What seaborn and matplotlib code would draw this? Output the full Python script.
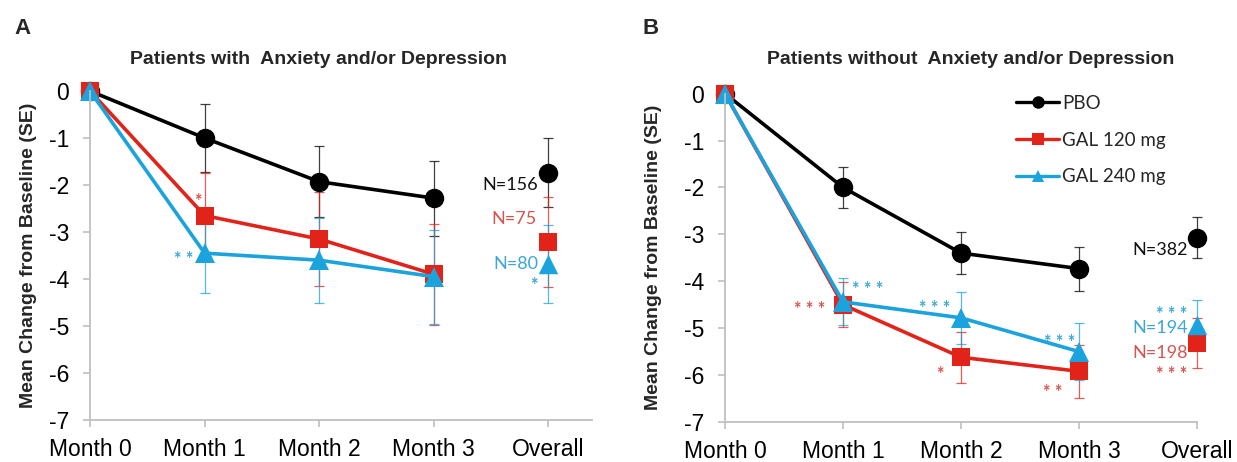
import matplotlib
matplotlib.use("Agg")
import matplotlib.pyplot as plt
import seaborn as sns
import pandas as pd
from matplotlib.lines import Line2D

sns.set_theme(style="white")
plt.rcParams['font.family'] = ['Liberation Sans', 'DejaVu Sans']

# ---------------- data ----------------
categories = ["Month 0", "Month 1", "Month 2", "Month 3", "Overall"]
groups = ["PBO", "GAL 120 mg", "GAL 240 mg"]

# Panel A: patients with anxiety and/or depression (Month 0..3, Overall)
a_pbo = [0.0, -1.00, -1.93, -2.28, -1.74]
a_g120 = [0.0, -2.65, -3.15, -3.90, -3.21]
a_g240 = [0.0, -3.45, -3.60, -3.95, -3.68]
a_pbo_se = [0.0, 0.72, 0.75, 0.80, 0.73]
a_g120_se = [0.0, 0.90, 1.00, 1.08, 0.96]
a_g240_se = [0.0, 0.85, 0.90, 1.00, 0.82]

# Panel B: patients without anxiety and/or depression
b_pbo = [0.0, -2.00, -3.40, -3.73, -3.07]
b_g120 = [0.0, -4.50, -5.62, -5.92, -5.32]
b_g240 = [0.0, -4.44, -4.78, -5.50, -4.93]
b_pbo_se = [0.0, 0.43, 0.45, 0.47, 0.44]
b_g120_se = [0.0, 0.48, 0.54, 0.56, 0.53]
b_g240_se = [0.0, 0.50, 0.56, 0.60, 0.53]

a_n = ["N=156", "N=75", "N=80"]
b_n = ["N=382", "N=198", "N=194"]

yticks = [0, -1, -2, -3, -4, -5, -6, -7]

colors = {"PBO": "#000000", "GAL 120 mg": "#E2231A", "GAL 240 mg": "#1AA3DC"}
text_colors = {"PBO": "#111111", "GAL 120 mg": "#D9544E", "GAL 240 mg": "#3BA7D6"}
markers = {"PBO": "o", "GAL 120 mg": "s", "GAL 240 mg": "^"}
msize = {"PBO": 14, "GAL 120 mg": 13, "GAL 240 mg": 14}

W, H = 1237, 462
fig = plt.figure(figsize=(W / 100, H / 100), dpi=100)
axA = fig.add_axes([90 / W, 1 - 420 / H, 502 / W, 329 / H])
axB = fig.add_axes([725 / W, 1 - 422 / H, 472 / W, 328.4 / H])

NFONT = ['Lato', 'DejaVu Sans']
SPINE = "#BFBFBF"


def draw_panel(ax, vals, ses, xmax):
    rows = []
    for g in groups:
        for i in range(4):
            rows.append({"pos": i, "val": vals[g][i], "group": g})
    df = pd.DataFrame(rows)
    for g in groups:
        sub = df[df.group == g]
        # error bars
        ax.errorbar(range(1, 5), vals[g][1:], yerr=ses[g][1:], fmt="none",
                    ecolor=colors[g], elinewidth=0.9, capsize=3.5, capthick=0.9,
                    alpha=0.75, zorder=1.5, clip_on=False)
        sns.lineplot(data=sub, x="pos", y="val", color=colors[g],
                     marker=markers[g], markersize=msize[g], markeredgewidth=0,
                     linewidth=2.6, ax=ax, legend=False, sort=False,
                     errorbar=None, clip_on=False, zorder=2)
        odf = pd.DataFrame({"pos": [4], "val": [vals[g][4]]})
        sns.scatterplot(data=odf, x="pos", y="val", color=colors[g],
                        marker=markers[g], s=msize[g] ** 2, linewidth=0,
                        ax=ax, legend=False, clip_on=False, zorder=3)
    ax.set_xlim(0, xmax)
    ax.set_ylim(-7, 0)
    ax.set_xticks(range(5))
    ax.set_xticklabels(categories)
    ax.set_yticks(yticks)
    ax.set_yticklabels([str(t) if t == 0 else "-" + str(abs(t)) for t in yticks])
    ax.set_xlabel("")
    ax.set_ylabel("")
    for s in ["top", "right"]:
        ax.spines[s].set_visible(False)
    for s in ["left", "bottom"]:
        ax.spines[s].set_color(SPINE)
        ax.spines[s].set_linewidth(1.3)
    ax.tick_params(axis="both", which="major", direction="out", length=5,
                   width=1.2, color=SPINE, labelsize=16.5, labelcolor="black")
    ax.tick_params(axis="x", pad=8)
    ax.tick_params(axis="y", pad=10)
    ax.tick_params(left=True, bottom=True)
    ax.patch.set_alpha(0)


draw_panel(axA, {"PBO": a_pbo, "GAL 120 mg": a_g120, "GAL 240 mg": a_g240},
           {"PBO": a_pbo_se, "GAL 120 mg": a_g120_se, "GAL 240 mg": a_g240_se}, 4.38)
draw_panel(axB, {"PBO": b_pbo, "GAL 120 mg": b_g120, "GAL 240 mg": b_g240},
           {"PBO": b_pbo_se, "GAL 120 mg": b_g120_se, "GAL 240 mg": b_g240_se}, 4.0)


def star(ax, x, y, s, g, ha="center"):
    ax.text(x, y, s, color=text_colors[g], fontsize=13, family=NFONT,
            fontweight="bold", ha=ha, va="center", zorder=4)


def ntext(ax, x, y, s, g):
    ax.text(x, y, s, color=text_colors[g], fontsize=13, family=NFONT,
            ha="right", va="center", zorder=4)


# Panel A annotations
star(axA, 0.94, -2.35, "*", "GAL 120 mg")
star(axA, 0.90, -3.59, "* *", "GAL 240 mg", ha="right")
ntext(axA, 3.91, -2.0, a_n[0], "PBO")
ntext(axA, 3.90, -2.72, a_n[1], "GAL 120 mg")
ntext(axA, 3.91, -3.68, a_n[2], "GAL 240 mg")
star(axA, 3.87, -4.14, "*", "GAL 240 mg")

# Panel B annotations
ntext(axB, 3.92, -3.33, b_n[0], "PBO")
star(axB, 3.92, -4.70, "* * *", "GAL 240 mg", ha="right")
ntext(axB, 3.92, -5.00, b_n[2], "GAL 240 mg")
ntext(axB, 3.92, -5.53, b_n[1], "GAL 120 mg")
star(axB, 3.92, -5.99, "* * *", "GAL 120 mg", ha="right")
star(axB, 2.86, -6.38, "* *", "GAL 120 mg", ha="right")
star(axB, 2.97, -5.31, "* * *", "GAL 240 mg", ha="right")
star(axB, 1.91, -4.58, "* * *", "GAL 240 mg", ha="right")
star(axB, 1.82, -5.99, "*", "GAL 120 mg")
star(axB, 1.08, -4.18, "* * *", "GAL 240 mg", ha="left")
star(axB, 0.85, -4.61, "* * *", "GAL 120 mg", ha="right")

# Legend (panel B)
handles = [Line2D([0], [0], color=colors[g], marker=markers[g], markersize=9,
                  markeredgewidth=0, linewidth=2.4) for g in groups]
leg = fig.legend(handles, groups, loc="upper left",
                 bbox_to_anchor=(1016 / W, 1 - 95 / H), frameon=False,
                 prop={"family": NFONT, "size": 13.5}, handlelength=2.3,
                 handletextpad=0.15, labelspacing=1.05, borderpad=0,
                 borderaxespad=0)

# Titles, labels, panel letters
fig.text(319 / W, 1 - 60 / H, "Patients with  Anxiety and/or Depression",
         ha="center", va="center", fontsize=14, fontweight="bold")
fig.text(971 / W, 1 - 60 / H, "Patients without  Anxiety and/or Depression",
         ha="center", va="center", fontsize=14, fontweight="bold")
fig.text(29 / W, 1 - 255 / H, "Mean Change from Baseline (SE)", rotation=90,
         ha="center", va="center", fontsize=14, fontweight="bold")
fig.text(654 / W, 1 - 257 / H, "Mean Change from Baseline (SE)", rotation=90,
         ha="center", va="center", fontsize=14, fontweight="bold")
fig.text(14 / W, 1 - 28 / H, "A", ha="left", va="center", fontsize=16,
         fontweight="bold")
fig.text(643 / W, 1 - 28 / H, "B", ha="left", va="center", fontsize=16,
         fontweight="bold")

fig.savefig("out.png", dpi=100)
